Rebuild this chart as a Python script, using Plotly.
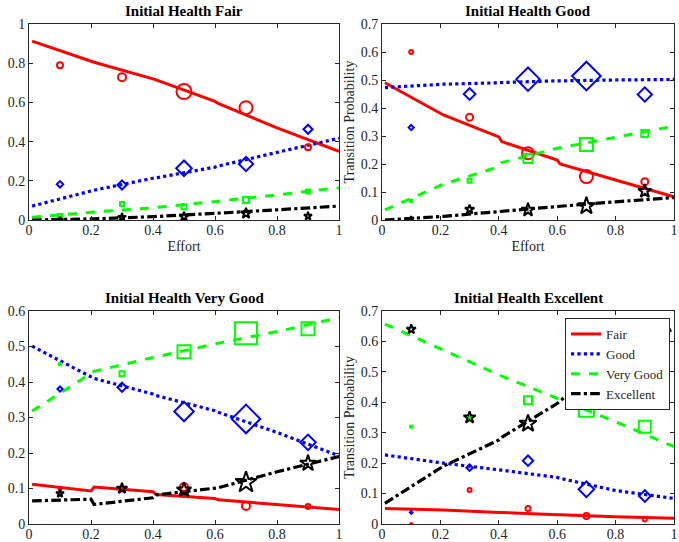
import plotly.graph_objects as go

# ---------------- data ----------------
titles = ["Initial Health Fair", "Initial Health Good",
          "Initial Health Very Good", "Initial Health Excellent"]
series_names = ["Fair", "Good", "Very Good", "Excellent"]

line_x = [0.01, 0.2, 0.21, 0.4, 0.41, 0.6, 0.61, 0.8, 1.0]
obs_x = [0.1, 0.3, 0.5, 0.7, 0.9]

# fitted lines per panel: [Fair, Good, Very Good, Excellent]
fair_lines = [
    [0.913, 0.81, 0.805, 0.72, 0.715, 0.605, 0.595, 0.47, 0.35],
    [0.071, 0.15, 0.152, 0.213, 0.215, 0.27, 0.275, 0.345, 0.417],
    [0.014, 0.04, 0.041, 0.062, 0.064, 0.094, 0.096, 0.128, 0.165],
    [0.0, 0.005, 0.006, 0.017, 0.018, 0.034, 0.035, 0.052, 0.071],
]
good_lines = [
    [0.49, 0.38, 0.375, 0.297, 0.28, 0.214, 0.2, 0.143, 0.083],
    [0.473, 0.484, 0.485, 0.49, 0.491, 0.497, 0.497, 0.5, 0.502],
    [0.036, 0.125, 0.128, 0.19, 0.205, 0.256, 0.258, 0.297, 0.335],
    [0.0, 0.012, 0.013, 0.03, 0.031, 0.048, 0.049, 0.065, 0.08],
]
vgood_lines = [
    [0.112, 0.093, 0.104, 0.091, 0.083, 0.072, 0.068, 0.055, 0.041],
    [0.501, 0.415, 0.41, 0.366, 0.362, 0.319, 0.315, 0.258, 0.192],
    [0.318, 0.426, 0.43, 0.469, 0.471, 0.507, 0.509, 0.542, 0.581],
    [0.065, 0.07, 0.055, 0.074, 0.082, 0.1, 0.102, 0.147, 0.19],
]
exc_lines = [
    [0.051, 0.046, 0.046, 0.038, 0.038, 0.03, 0.03, 0.024, 0.019],
    [0.227, 0.20, 0.20, 0.178, 0.177, 0.153, 0.15, 0.11, 0.084],
    [0.657, 0.575, 0.571, 0.49, 0.486, 0.413, 0.409, 0.336, 0.254],
    [0.068, 0.183, 0.19, 0.276, 0.285, 0.396, 0.405, 0.545, 0.643],
]

# observed frequencies per panel: [Fair, Good, Very Good, Excellent]
fair_obs = [
    [0.79, 0.728, 0.655, 0.573, 0.371],
    [0.182, 0.179, 0.264, 0.286, 0.463],
    [0.02, 0.082, 0.068, 0.102, 0.145],
    [0.0, 0.014, 0.017, 0.034, 0.02],
]
good_obs = [
    [0.60, 0.367, 0.238, 0.155, 0.137],
    [0.33, 0.45, 0.503, 0.514, 0.448],
    [0.068, 0.14, 0.22, 0.27, 0.309],
    [0.004, 0.038, 0.036, 0.05, 0.103],
]
vgood_obs = [
    [0.10, 0.10, 0.104, 0.051, 0.049],
    [0.38, 0.385, 0.317, 0.296, 0.23],
    [0.45, 0.423, 0.485, 0.537, 0.55],
    [0.086, 0.10, 0.096, 0.117, 0.171],
]
exc_obs = [
    [0.0, 0.112, 0.051, 0.026, 0.015],
    [0.038, 0.185, 0.208, 0.114, 0.092],
    [0.32, 0.35, 0.407, 0.377, 0.32],
    [0.64, 0.35, 0.33, 0.485, 0.58],
]

# relative weight of each observation (drives marker size)
fair_w = [
    [6, 8, 15, 13, 6],
    [5, 7, 12, 11, 7],
    [4, 4, 5, 6, 4],
    [5, 6, 7, 8, 6],
]
good_w = [
    [4, 7, 12, 13, 7],
    [4, 9, 18, 22, 11],
    [2, 4, 9, 13, 7],
    [4, 7, 10, 13, 10],
]
vgood_w = [
    [3, 4, 8, 8, 5],
    [4, 7, 15, 22, 12],
    [2, 5, 13, 22, 13],
    [6, 8, 11, 16, 12],
]
exc_w = [
    [2, 4, 5, 6, 4],
    [2, 5, 8, 12, 9],
    [2, 2, 8, 15, 12],
    [7, 9, 13, 24, 16],
]

y_ranges = [[0, 1], [0, 0.7], [0, 0.6], [0, 0.7]]
y_dtick = [0.2, 0.1, 0.1, 0.1]

# ---------------- styling ----------------
colors = ["#ff0000", "#0000ff", "#00ff00", "#000000"]
dashes = ["solid", "dot", "dash", "dashdot"]
widths = [3, 3.2, 3, 3.2]
symbols = ["circle-open", "diamond-open", "square-open", "star-open"]
SERIF = "Liberation Serif"

panels = [
    (fair_lines, fair_obs, fair_w),
    (good_lines, good_obs, good_w),
    (vgood_lines, vgood_obs, vgood_w),
    (exc_lines, exc_obs, exc_w),
]

W, H = 679, 542
boxes = [  # left, right, top, bottom (pixels)
    (29, 339, 24, 220),
    (382, 674, 24, 220),
    (29, 339, 311, 524),
    (382, 674, 311, 524),
]

fig = go.Figure()
layout = dict()
annotations = []

for i, (lines, obs, wts) in enumerate(panels):
    xa = "x" if i == 0 else f"x{i+1}"
    ya = "y" if i == 0 else f"y{i+1}"
    for k in range(4):
        fig.add_trace(go.Scatter(
            x=line_x, y=lines[k], mode="lines", xaxis=xa, yaxis=ya,
            name=series_names[k], showlegend=(i == 3),
            line=dict(color=colors[k], dash=dashes[k], width=widths[k]),
        ))
    for k in range(4):
        fig.add_trace(go.Scatter(
            x=obs_x, y=obs[k], mode="markers", xaxis=xa, yaxis=ya,
            showlegend=False,
            marker=dict(symbol=symbols[k], size=wts[k], color=colors[k], opacity=1,
                        line=dict(color=colors[k], width=2.0)),
        ))
    l, r, t, b = boxes[i]
    axcommon = dict(showline=True, linecolor="#262626", linewidth=1,
                    mirror="ticks", ticks="inside", ticklen=4,
                    tickcolor="#262626", showgrid=False, zeroline=False,
                    automargin=False,
                    tickfont=dict(family=SERIF, size=14, color="#262626"))
    layout["xaxis" if i == 0 else f"xaxis{i+1}"] = dict(
        domain=[l / W, r / W], anchor=ya, range=[0, 1],
        tickvals=[0, 0.2, 0.4, 0.6, 0.8, 1], ticktext=["0", "0.2", "0.4", "0.6", "0.8", "1"],
        ticklabeloverflow="allow", ticklabelstandoff=-3,
        title=dict(text="Effort" if i < 2 else "", font=dict(family=SERIF, size=14, color="#262626"), standoff=4),
        **axcommon)
    layout["yaxis" if i == 0 else f"yaxis{i+1}"] = dict(
        domain=[1 - b / H, 1 - t / H], anchor=xa, range=y_ranges[i],
        dtick=y_dtick[i],
        title=dict(text="Transition Probability" if i % 2 == 1 else "",
                   font=dict(family=SERIF, size=14, color="#262626"), standoff=2),
        **axcommon)
    annotations.append(dict(
        text="<b>" + titles[i] + "</b>", x=(l + r) / 2 / W, y=1 - (t - 3) / H,
        xref="paper", yref="paper", xanchor="center", yanchor="bottom",
        showarrow=False, font=dict(family=SERIF, size=15, color="#000000")))

fig.update_layout(
    width=W, height=H, margin=dict(l=0, r=0, t=0, b=0),
    plot_bgcolor="white", paper_bgcolor="white",
    annotations=annotations,
    font=dict(family=SERIF),
    legend=dict(x=670 / W, y=1 - 318 / H, xanchor="right", yanchor="top",
                bgcolor="white", bordercolor="#262626", borderwidth=1,
                font=dict(family=SERIF, size=13, color="#262626"),
                tracegroupgap=0, itemwidth=30),
    **layout,
)

fig.write_html("out.html", config={"displayModeBar": False},
               post_script="document.body.style.margin='0';document.body.style.padding='0';")
